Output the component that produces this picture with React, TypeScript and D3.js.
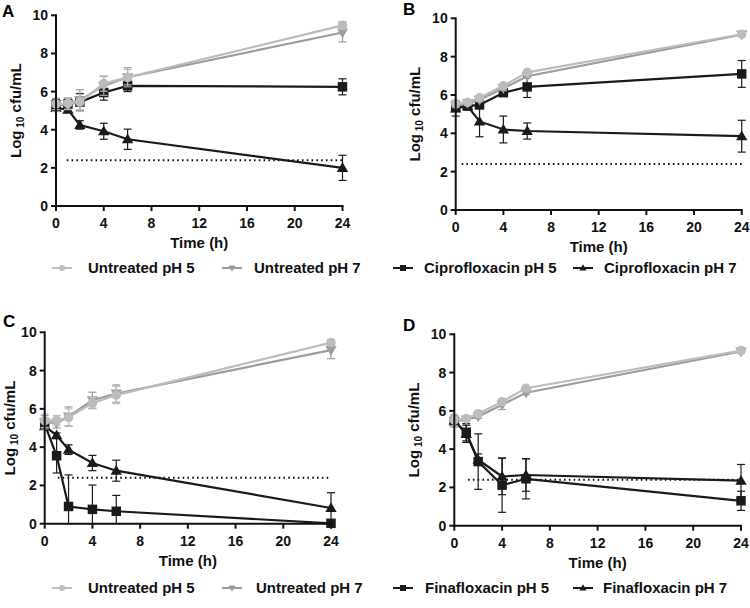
import React from "react";
import * as d3 from "d3";

// ---------- data ----------
const TIMES = [0, 1, 2, 4, 6, 24];
const X_TICKS = [0, 4, 8, 12, 16, 20, 24];
const Y_TICKS = [0, 2, 4, 6, 8, 10];
const LOD = 2.4;

const TOP_LEGEND = ["Untreated pH 5", "Untreated pH 7", "Ciprofloxacin pH 5", "Ciprofloxacin pH 7"];
const BOTTOM_LEGEND = ["Untreated pH 5", "Untreated pH 7", "Finafloxacin pH 5", "Finafloxacin pH 7"];

// Panel A
const A_U5 = [5.35, 5.38, 5.45, 6.42, 6.75, 9.47];
const A_U5_SD = [0.3, 0.3, 0.4, 0.4, 0.4, 0.2];
const A_U7 = [5.3, 5.35, 5.55, 6.3, 6.75, 9.1];
const A_U7_SD = [0.35, 0.3, 0.55, 0.5, 0.5, 0.5];
const A_P5 = [5.3, 5.35, 5.45, 5.95, 6.3, 6.25];
const A_P5_SD = [0.3, 0.25, 0.45, 0.4, 0.3, 0.42];
const A_P7 = [5.15, 5.05, 4.25, 3.92, 3.5, 2.0];
const A_P7_SD = [0.15, 0.1, 0.22, 0.42, 0.53, 0.66];

// Panel B
const B_U5 = [5.55, 5.62, 5.85, 6.48, 7.18, 9.17];
const B_U5_SD = [0.1, 0.1, 0.1, 0.1, 0.08, 0.08];
const B_U7 = [5.45, 5.58, 5.75, 6.35, 6.98, 9.15];
const B_U7_SD = [0.1, 0.1, 0.1, 0.12, 0.1, 0.08];
const B_P5 = [5.35, 5.42, 5.48, 6.12, 6.42, 7.1];
const B_P5_SD = [0.15, 0.1, 0.15, 0.1, 0.55, 0.7];
const B_P7 = [5.3, 5.42, 4.62, 4.2, 4.12, 3.85];
const B_P7_SD = [0.4, 0.1, 0.8, 0.7, 0.42, 0.83];

// Panel C
const C_U5 = [5.38, 5.4, 5.55, 6.3, 6.72, 9.46];
const C_U5_SD = [0.35, 0.25, 0.45, 0.3, 0.45, 0.15];
const C_U7 = [5.3, 5.25, 5.6, 6.45, 6.8, 9.07];
const C_U7_SD = [0.35, 0.25, 0.5, 0.42, 0.45, 0.45];
const C_F5 = [5.2, 3.55, 0.9, 0.75, 0.65, 0.02];
const C_F5_SD = [0.15, 0.9, 1.65, 1.27, 0.83, 0];
const C_F7 = [5.1, 4.62, 3.87, 3.17, 2.77, 0.82];
const C_F7_SD = [0.1, 0.12, 0.25, 0.4, 0.55, 0.8];

// Panel D
const D_U5 = [5.52, 5.6, 5.85, 6.48, 7.18, 9.15];
const D_U5_SD = [0.3, 0.1, 0.1, 0.1, 0.1, 0.1];
const D_U7 = [5.45, 5.55, 5.7, 6.32, 6.95, 9.1];
const D_U7_SD = [0.3, 0.1, 0.1, 0.25, 0.1, 0.1];
const D_F5 = [5.45, 4.88, 3.35, 2.12, 2.45, 1.3];
const D_F5_SD = [0.15, 0.45, 1.45, 1.42, 1.05, 0.5];
const D_F7 = [5.5, 4.8, 3.45, 2.57, 2.65, 2.35];
const D_F7_SD = [0.15, 0.45, 0.3, 0.95, 0.85, 0.85];

// ---------- styles / layout ----------
const FONT = "'Liberation Sans', Arial, Helvetica, sans-serif";
const STYLES = [
  { color: "#bcbcbc", shape: "circle" },
  { color: "#9c9c9c", shape: "down" },
  { color: "#1a1a1a", shape: "square" },
  { color: "#1a1a1a", shape: "up" },
];

const PANELS = [
  { letter: "A", lx: 2, ly: 17, x0: 56, x1: 342.5, y0: 206, y1: 15.3, ylab: 21, lodStart: 0.9,
    series: [[A_U5, A_U5_SD], [A_U7, A_U7_SD], [A_P5, A_P5_SD], [A_P7, A_P7_SD]] },
  { letter: "B", lx: 403, ly: 15, x0: 455.7, x1: 741.7, y0: 210, y1: 18.3, ylab: 420, lodStart: 0.5,
    series: [[B_U5, B_U5_SD], [B_U7, B_U7_SD], [B_P5, B_P5_SD], [B_P7, B_P7_SD]] },
  { letter: "C", lx: 3, ly: 327, x0: 44.7, x1: 331, y0: 523.7, y1: 332.3, ylab: 15, lodStart: 1.1,
    series: [[C_U5, C_U5_SD], [C_U7, C_U7_SD], [C_F5, C_F5_SD], [C_F7, C_F7_SD]] },
  { letter: "D", lx: 403, ly: 331, x0: 454.3, x1: 741, y0: 525.7, y1: 334.3, ylab: 419, lodStart: 1.15,
    series: [[D_U5, D_U5_SD], [D_U7, D_U7_SD], [D_F5, D_F5_SD], [D_F7, D_F7_SD]] },
];

const LEGENDS = [
  { labels: TOP_LEGEND, y: 273, marks: [62, 232, 403, 583], texts: [88, 254, 424, 604] },
  { labels: BOTTOM_LEGEND, y: 593, marks: [62, 232, 403, 583], texts: [88, 256, 425, 603] },
];

function symbolPath(shape: string, size: number) {
  if (shape === "circle") return d3.symbol(d3.symbolCircle, size)()!;
  if (shape === "square") return d3.symbol(d3.symbolSquare, size)()!;
  return d3.symbol(d3.symbolTriangle, size)()!;
}

function Marker({ shape, color, x, y, scale = 1 }: any) {
  const sizes: any = { circle: 72, square: 90, up: 56, down: 56 };
  const p = symbolPath(shape, sizes[shape] * scale);
  const rot = shape === "down" ? " rotate(180)" : "";
  const dy = shape === "up" ? 0.8 : shape === "down" ? -0.8 : 0;
  return <path d={p} transform={`translate(${x},${y + dy * Math.sqrt(scale)})${rot}`} fill={color} stroke="none" />;
}

function Panel({ p }: any) {
  const x = d3.scaleLinear().domain([0, 24]).range([p.x0, p.x1]);
  const y = d3.scaleLinear().domain([0, 10]).range([p.y0, p.y1]);
  const line = d3
    .line<number>()
    .x((_, i) => x(TIMES[i]))
    .y((d) => y(d));
  const order = [3, 2, 1, 0];
  const ymid = (p.y0 + p.y1) / 2;
  return (
    <g>
      <text x={p.lx} y={p.ly} fontSize={17} fontWeight="bold" fontFamily={FONT}>
        {p.letter}
      </text>
      {/* LOD dotted line */}
      <line x1={x(p.lodStart)} x2={x(24)} y1={y(LOD)} y2={y(LOD)} stroke="#111" strokeWidth={1.8} strokeDasharray="1.6,3.2" />
      {order.map((si) => {
        const [mean, sd] = p.series[si];
        const st = STYLES[si];
        return (
          <g key={si}>
            {mean.map((m: number, i: number) => {
              if (sd[i] <= 0) return null;
              const top = y(m + sd[i]);
              const bot = y(Math.max(0, m - sd[i]));
              const cx = x(TIMES[i]);
              return (
                <g key={i} stroke={st.color} strokeWidth={1.2}>
                  <line x1={cx} x2={cx} y1={top} y2={bot} />
                  <line x1={cx - 4} x2={cx + 4} y1={top} y2={top} />
                  <line x1={cx - 4} x2={cx + 4} y1={bot} y2={bot} />
                </g>
              );
            })}
            <path d={line(mean)!} fill="none" stroke={st.color} strokeWidth={2.2} />
            {mean.map((m: number, i: number) => (
              <Marker key={i} shape={st.shape} color={st.color} x={x(TIMES[i])} y={y(m)} />
            ))}
          </g>
        );
      })}
      {/* axes */}
      <g stroke="#111" strokeWidth={2}>
        <line x1={p.x0} x2={p.x0} y1={p.y0 + 1} y2={p.y1 - 1} />
        <line x1={p.x0 - 1} x2={p.x1 + 1} y1={p.y0} y2={p.y0} />
        {Y_TICKS.map((t) => (
          <line key={"y" + t} x1={p.x0 - 5} x2={p.x0} y1={y(t)} y2={y(t)} />
        ))}
        {X_TICKS.map((t) => (
          <line key={"x" + t} x1={x(t)} x2={x(t)} y1={p.y0} y2={p.y0 + 5} />
        ))}
      </g>
      <g fontFamily={FONT} fontWeight="bold" fontSize={14} fill="#111">
        {Y_TICKS.map((t) => (
          <text key={"yl" + t} x={p.x0 - 8} y={y(t)} dy="0.36em" textAnchor="end">
            {t}
          </text>
        ))}
        {X_TICKS.map((t) => (
          <text key={"xl" + t} x={x(t)} y={p.y0 + 22} textAnchor="middle">
            {t}
          </text>
        ))}
      </g>
      <text x={(p.x0 + p.x1) / 2} y={p.y0 + 42} textAnchor="middle" fontFamily={FONT} fontWeight="bold" fontSize={15} fill="#111">
        Time (h)
      </text>
      <text transform={`translate(${p.ylab},${ymid}) rotate(-90)`} textAnchor="middle" fontFamily={FONT} fontWeight="bold" fontSize={15} fill="#111">
        Log
        <tspan fontSize={10} dy={3}> 10</tspan>
        <tspan dy={-3}> cfu/mL</tspan>
      </text>
    </g>
  );
}

function Legend({ l }: any) {
  return (
    <g>
      {l.labels.map((lab: string, i: number) => {
        const st = STYLES[i];
        const mx = l.marks[i];
        const my = l.y - 5;
        return (
          <g key={i}>
            <line x1={mx - 10} x2={mx + 10} y1={my} y2={my} stroke={st.color} strokeWidth={2} />
            <Marker shape={st.shape} color={st.color} x={mx} y={my} scale={0.4} />
            <text x={l.texts[i]} y={l.y} fontFamily={FONT} fontWeight="bold" fontSize={15} fill="#111">
              {lab}
            </text>
          </g>
        );
      })}
    </g>
  );
}

export default function App() {
  return (
    <svg width={750} height={608} style={{ position: "absolute", left: 0, top: 0, background: "#fff" }}>
      <rect x={0} y={0} width={750} height={608} fill="#fff" />
      {PANELS.map((p) => (
        <Panel key={p.letter} p={p} />
      ))}
      {LEGENDS.map((l, i) => (
        <Legend key={i} l={l} />
      ))}
    </svg>
  );
}
